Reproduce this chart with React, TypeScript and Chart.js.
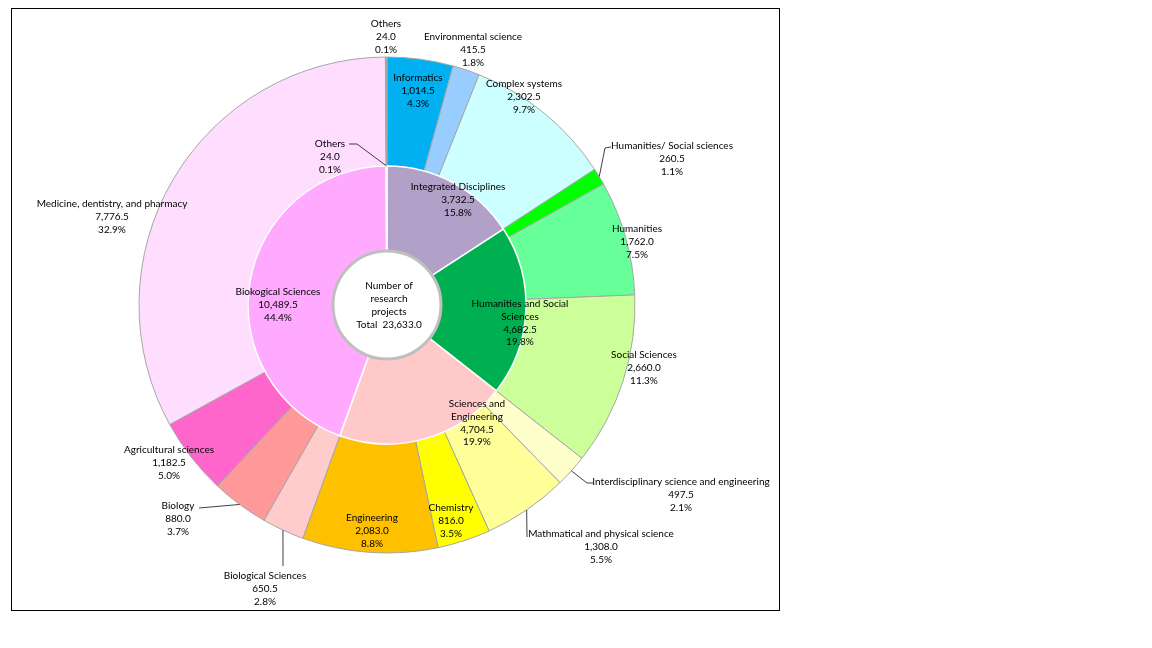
import { useEffect, useRef } from "react";
import { Chart, registerables } from "chart.js";

Chart.register(...registerables);

// ---------- data ----------
const groupLabels: (string | string[])[] = [
  "Integrated Disciplines",
  ["Humanities and Social", "Sciences"],
  ["Sciences and", "Engineering"],
  "Biokogical Sciences",
  "Others",
];
const groupValues = [3732.5, 4682.5, 4704.5, 10489.5, 24.0];

const fieldLabels: (string | string[])[] = [
  "Informatics",
  "Environmental science",
  "Complex systems",
  "Humanities/ Social sciences",
  "Humanities",
  "Social Sciences",
  "Interdisciplinary science and engineering",
  "Mathmatical and physical science",
  "Chemistry",
  "Engineering",
  "Biological Sciences",
  "Biology",
  "Agricultural sciences",
  "Medicine, dentistry, and pharmacy",
  "Others",
];
const fieldValues = [
  1014.5, 415.5, 2302.5, 260.5, 1762.0, 2660.0, 497.5, 1308.0, 816.0, 2083.0,
  650.5, 880.0, 1182.5, 7776.5, 24.0,
];

const centerLines = ["Number of", "research", "projects", "Total  23,633.0"];

// ---------- styles ----------
const groupColors = ["#B1A0C7", "#00B050", "#FFC9C9", "#FFAAFF", "#BFBFBF"];
const fieldColors = [
  "#00B0F0", "#99CCFF", "#CCFFFF", "#00FF00", "#66FF99", "#CCFF99", "#FFFFCC",
  "#FFFF99", "#FFFF00", "#FFC000", "#FFCCCC", "#FF9999", "#FF66CC", "#FFDDFF",
  "#A6A6A6",
];

const FONT = "10px Lato";
const LINE_H = 12.7;
const CENTER_R = 54;

type Spot = { dx: number; dy: number; leader?: [number, number][] };

// label placement (text block centre x, first line y) relative to chart centre
const fieldSpots: Spot[] = [
  { dx: 31, dy: -227 },
  { dx: 86, dy: -268 },
  { dx: 137, dy: -221 },
  { dx: 285, dy: -159, leader: [[218, -157], [224, -158]] },
  { dx: 250, dy: -76 },
  { dx: 257, dy: 50 },
  { dx: 294, dy: 177, leader: [[200, 178], [206, 178]] },
  { dx: 214, dy: 229, leader: [[140, 232]] },
  { dx: 64, dy: 203 },
  { dx: -15, dy: 213 },
  { dx: -122, dy: 271, leader: [[-104, 261]] },
  { dx: -209, dy: 201, leader: [[-188, 203]] },
  { dx: -218, dy: 145 },
  { dx: -275, dy: -101 },
  { dx: -1, dy: -281 },
];
const groupSpots: Spot[] = [
  { dx: 71, dy: -118 },
  { dx: 133, dy: -1 },
  { dx: 90, dy: 99 },
  { dx: -109, dy: -13 },
  { dx: -57, dy: -161, leader: [[-30, -161], [-38, -161]] },
];

const total = groupValues.reduce((a, b) => a + b, 0);
const fmt = (v: number) =>
  v.toLocaleString("en-US", { minimumFractionDigits: 1, maximumFractionDigits: 1 });
const pct = (v: number) => ((v / total) * 100).toFixed(1) + "%";

function drawSet(
  ctx: CanvasRenderingContext2D,
  meta: any,
  labels: (string | string[])[],
  values: number[],
  spots: Spot[],
  cx: number,
  cy: number
) {
  meta.data.forEach((arc: any, i: number) => {
    const spot = spots[i];
    if (!spot) return;
    const p = arc.getProps(["startAngle", "endAngle", "outerRadius"], true);
    if (spot.leader) {
      const mid = (p.startAngle + p.endAngle) / 2;
      ctx.beginPath();
      ctx.moveTo(cx + Math.cos(mid) * p.outerRadius, cy + Math.sin(mid) * p.outerRadius);
      spot.leader.forEach(([lx, ly]) => ctx.lineTo(cx + lx, cy + ly));
      ctx.strokeStyle = "#404040";
      ctx.lineWidth = 1;
      ctx.stroke();
    }
    const name = labels[i];
    const lines = [...(Array.isArray(name) ? name : [name]), fmt(values[i]), pct(values[i])];
    ctx.fillStyle = "#000000";
    ctx.font = FONT;
    ctx.textAlign = "center";
    ctx.textBaseline = "middle";
    lines.forEach((t, k) => ctx.fillText(t, cx + spot.dx, cy + spot.dy + k * LINE_H));
  });
}

const labelPlugin = {
  id: "sunburstLabels",
  afterDatasetsDraw(chart: any) {
    const ctx: CanvasRenderingContext2D = chart.ctx;
    const outer = chart.getDatasetMeta(0);
    const inner = chart.getDatasetMeta(1);
    const a0 = outer.data[0];
    const cx = a0.x;
    const cy = a0.y;
    ctx.save();
    // centre disc
    ctx.beginPath();
    ctx.arc(cx, cy, CENTER_R, 0, Math.PI * 2);
    ctx.fillStyle = "#FFFFFF";
    ctx.fill();
    ctx.lineWidth = 3;
    ctx.strokeStyle = "#BFBFBF";
    ctx.stroke();
    ctx.fillStyle = "#000000";
    ctx.font = FONT;
    ctx.textAlign = "center";
    ctx.textBaseline = "middle";
    centerLines.forEach((t, k) =>
      ctx.fillText(t, cx + 2, cy - 19.3 + k * 12.9)
    );
    drawSet(ctx, outer, fieldLabels, fieldValues, fieldSpots, cx, cy);
    drawSet(ctx, inner, groupLabels, groupValues, groupSpots, cx, cy);
    ctx.restore();
  },
};

export default function App() {
  const ref = useRef<HTMLCanvasElement>(null);
  useEffect(() => {
    const chart = new Chart(ref.current!, {
      type: "doughnut",
      data: {
        labels: fieldLabels as any,
        datasets: [
          {
            data: fieldValues,
            backgroundColor: fieldColors,
            borderColor: "#A6A6A6",
            borderWidth: 1,
            weight: 109,
            order: 1,
          } as any,
          {
            data: groupValues,
            backgroundColor: groupColors,
            borderColor: "#FFFFFF",
            borderWidth: 1.5,
            weight: 85,
            order: 0,
          } as any,
        ],
      },
      options: {
        responsive: false,
        animation: false,
        cutout: "21.77%",
        layout: { padding: { left: 126.5, top: 47.5, right: 143.5, bottom: 56.5 } },
        plugins: { legend: { display: false }, tooltip: { enabled: false } },
        events: [],
      } as any,
      plugins: [labelPlugin],
    });
    return () => chart.destroy();
  }, []);

  return (
    <div style={{ position: "relative", width: 1136, height: 632 }}>
      <div
        style={{
          position: "absolute",
          left: 3,
          top: 0,
          width: 769,
          height: 603,
          border: "1px solid #000",
          boxSizing: "border-box",
          background: "#fff",
        }}
      >
        <canvas
          ref={ref}
          width={767}
          height={601}
          style={{ position: "absolute", left: 0, top: 0, width: 767, height: 601 }}
        />
      </div>
    </div>
  );
}
